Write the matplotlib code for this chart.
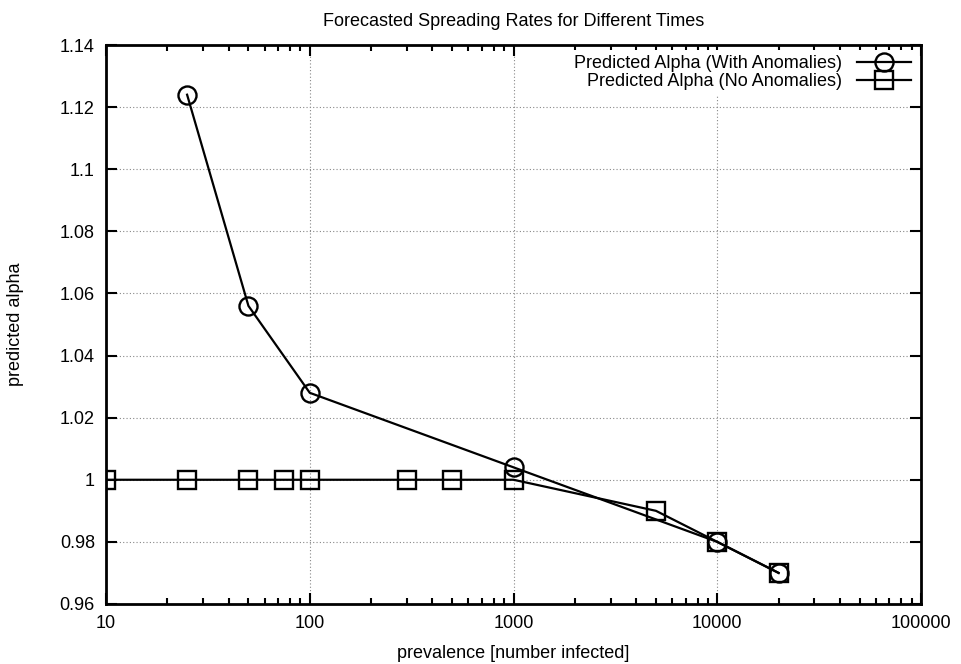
import numpy as np
import matplotlib.pyplot as plt
from matplotlib.ticker import FuncFormatter, LogLocator, NullFormatter

plt.rcParams['font.family'] = ['Liberation Sans', 'DejaVu Sans']
plt.rcParams['font.size'] = 13

# data
x_with = [25, 50, 100, 1000, 10000, 20000]
alpha_with = [1.124, 1.056, 1.028, 1.004, 0.98, 0.97]

x_none = [10, 25, 50, 75, 100, 300, 500, 1000, 5000, 10000, 20000]
alpha_none = [1.0, 1.0, 1.0, 1.0, 1.0, 1.0, 1.0, 1.0, 0.99, 0.98, 0.97]

x_ticks = [10, 100, 1000, 10000, 100000]
y_ticks = [0.96, 0.98, 1.0, 1.02, 1.04, 1.06, 1.08, 1.1, 1.12, 1.14]


def fmt_g(v, pos):
    return '%g' % v


fig = plt.figure(figsize=(9.62, 6.64), dpi=100)
ax = fig.add_axes([0.1102, 0.0904, 0.8472, 0.8418])

ax.plot(x_with, alpha_with, color='black', lw=1.6, marker='o', ms=13,
        mfc='none', mec='black', mew=1.7, label='Predicted Alpha (With Anomalies)')
ax.plot(x_none, alpha_none, color='black', lw=1.6, marker='s', ms=13,
        mfc='none', mec='black', mew=1.7, label='Predicted Alpha (No Anomalies)')

ax.set_xscale('log')
ax.set_xlim(10, 100000)
ax.set_ylim(0.96, 1.14)
ax.set_xticks(x_ticks)
ax.set_yticks(y_ticks)
ax.xaxis.set_major_formatter(FuncFormatter(fmt_g))
ax.yaxis.set_major_formatter(FuncFormatter(fmt_g))
ax.xaxis.set_minor_locator(LogLocator(base=10, subs=np.arange(2, 10)))
ax.xaxis.set_minor_formatter(NullFormatter())

ax.grid(True, which='major', color='#888888', linestyle=(0, (1, 2)), lw=0.8)
ax.tick_params(which='both', direction='in', top=True, right=True, width=1.5)
ax.tick_params(which='major', length=8, pad=8)
ax.tick_params(which='minor', length=4)
for s in ax.spines.values():
    s.set_linewidth(2)

ax.set_title('Forecasted Spreading Rates for Different Times', fontsize=13, pad=14)
ax.set_xlabel('prevalence [number infected]', labelpad=9)
ax.set_ylabel('predicted alpha', labelpad=26)

leg = ax.legend(loc='upper right', markerfirst=False, frameon=True, fancybox=False,
                edgecolor='none', facecolor='white', framealpha=1,
                handlelength=3.0, handletextpad=0.8, borderaxespad=0.25,
                labelspacing=0.05, borderpad=0.3)

fig.savefig('out.png', dpi=100)
